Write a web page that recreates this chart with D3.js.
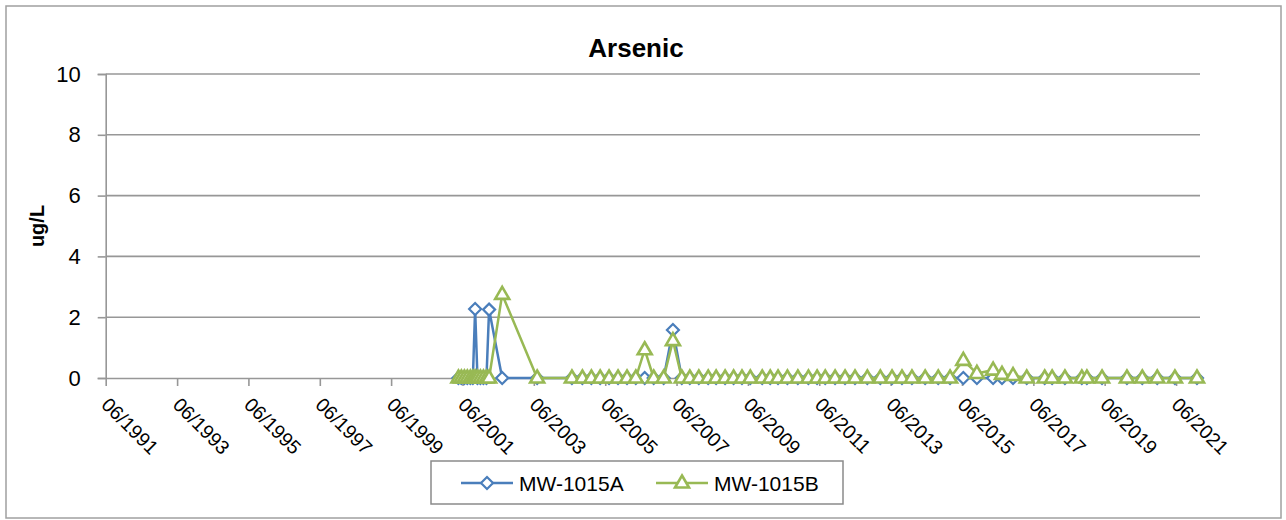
<!DOCTYPE html>
<html>
<head>
<meta charset="utf-8">
<script src="https://cdn.jsdelivr.net/npm/d3@7"></script>
<style>
  body { margin: 0; background: #fff; }
</style>
</head>
<body>
<div id="chart"></div>
<script>
// chart values
const chartTitle = 'Arsenic';
const yTitle = 'ug/L';
const seriesNames = ['MW-1015A', 'MW-1015B'];

const sampleDates = [
  '2001-04-20', '2001-05-20', '2001-06-20', '2001-07-20', '2001-08-20', '2001-09-15', '2001-10-08',
  '2001-11-01', '2001-12-01', '2002-01-01', '2002-02-01', '2002-02-28',
  '2002-07-12', '2003-07-05',
  '2004-06-25', '2004-10-10', '2005-01-10', '2005-04-10', '2005-07-10', '2005-10-10', '2006-01-10',
  '2006-04-10', '2006-07-10', '2006-10-10', '2007-01-20', '2007-04-25', '2007-07-25', '2007-10-15',
  '2008-01-15', '2008-04-20', '2008-07-10', '2008-10-10', '2009-01-05', '2009-04-01', '2009-06-25',
  '2009-10-25', '2010-01-15', '2010-04-05', '2010-07-10', '2010-10-25',
  '2011-02-10', '2011-05-10', '2011-08-01', '2011-11-10', '2012-02-20', '2012-06-01', '2012-10-05',
  '2013-02-15', '2013-06-15', '2013-09-25', '2014-01-05', '2014-05-20', '2014-10-01', '2015-01-30',
  '2015-06-15', '2015-11-01', '2016-04-15', '2016-07-15', '2016-11-05', '2017-03-25', '2017-09-25',
  '2017-12-10', '2018-04-20', '2018-10-10', '2018-12-01', '2019-05-05',
  '2020-01-15', '2020-06-20', '2020-11-20', '2021-05-20', '2022-01-01',
];

const arsenicA = [
  0, 0, 0, 0, 0, 0, 2.27, 0, 0, 0, 0, 2.25,
  0, 0,
  0, 0, 0, 0, 0, 0, 0, 0, 0, 0, 0, 1.58, 0, 0,
  0, 0, 0, 0, 0, 0, 0, 0, 0, 0, 0, 0,
  0, 0, 0, 0, 0, 0, 0, 0, 0, 0, 0, 0, 0, 0,
  0, 0, 0, 0, 0, 0, 0, 0, 0, 0, 0, 0,
  0, 0, 0, 0, 0,
];

const arsenicB = [
  0, 0, 0, 0, 0, 0, 0, 0, 0, 0, 0, 0,
  2.75, 0,
  0, 0, 0, 0, 0, 0, 0, 0, 0.93, 0, 0, 1.23, 0, 0,
  0, 0, 0, 0, 0, 0, 0, 0, 0, 0, 0, 0,
  0, 0, 0, 0, 0, 0, 0, 0, 0, 0, 0, 0, 0, 0,
  0.58, 0.15, 0.26, 0.12, 0.08, 0, 0, 0, 0, 0, 0, 0,
  0, 0, 0, 0, 0,
];

const yTicks = [0, 2, 4, 6, 8, 10];
const xTickLabels = [
  '06/1991', '06/1993', '06/1995', '06/1997', '06/1999', '06/2001', '06/2003', '06/2005',
  '06/2007', '06/2009', '06/2011', '06/2013', '06/2015', '06/2017', '06/2019', '06/2021',
];
const xEnd = '02/2022';

const size = { width: 1286, height: 520 };
const plot = { left: 105.7, right: 1200, top: 74, bottom: 378 };
const font = "'Liberation Sans', Arial, sans-serif";
const colors = ['#4a7ebb', '#98b954'];
const gridColor = '#979797';

const parseDay = d3.timeParse('%Y-%m-%d');
const parseMonth = d3.timeParse('%m/%Y');

const series = [arsenicA, arsenicB].map((vals, i) => ({
  name: seriesNames[i],
  color: colors[i],
  values: sampleDates.map((d, j) => ({ date: parseDay(d), value: vals[j] })),
}));

const svg = d3
  .select('#chart')
  .append('svg')
  .attr('width', size.width)
  .attr('height', size.height)
  .style('font-family', font);

// outer chart border
svg
  .append('rect')
  .attr('x', 6)
  .attr('y', 6)
  .attr('width', 1275)
  .attr('height', 512)
  .attr('fill', '#fff')
  .attr('stroke', '#a0a0a0')
  .attr('stroke-width', 1.5);

const x = d3
  .scaleTime()
  .domain([parseMonth(xTickLabels[0]), parseMonth(xEnd)])
  .range([plot.left, plot.right]);
const y = d3.scaleLinear().domain([0, 10]).range([plot.bottom, plot.top]);

// horizontal grid
svg
  .append('g')
  .selectAll('line')
  .data(yTicks.slice(1))
  .join('line')
  .attr('x1', plot.left)
  .attr('x2', plot.right)
  .attr('y1', (d) => y(d))
  .attr('y2', (d) => y(d))
  .attr('stroke', gridColor)
  .attr('stroke-width', 1.6);

// y axis
const yAxis = svg
  .append('g')
  .attr('transform', `translate(${plot.left},0)`)
  .call(d3.axisLeft(y).tickValues(yTicks).tickSize(8).tickPadding(17));
yAxis.select('.domain').attr('stroke', gridColor).attr('stroke-width', 1.6);
yAxis.selectAll('.tick line').attr('stroke', gridColor).attr('stroke-width', 1.6);
yAxis.selectAll('.tick text').attr('fill', '#000').style('font-size', '22px').style('font-family', font);

// x axis
const xAxis = svg
  .append('g')
  .attr('transform', `translate(0,${plot.bottom})`)
  .call(
    d3
      .axisBottom(x)
      .tickValues(xTickLabels.map(parseMonth))
      .tickSize(8)
      .tickSizeOuter(0)
      .tickFormat(d3.timeFormat('%m/%Y')),
  );
xAxis.select('.domain').attr('stroke', gridColor).attr('stroke-width', 1.6);
xAxis.selectAll('.tick line').attr('stroke', gridColor).attr('stroke-width', 1.6);
xAxis
  .selectAll('.tick text')
  .attr('fill', '#000')
  .style('font-size', '19.5px')
  .style('font-family', font)
  .attr('text-anchor', 'start')
  .attr('dominant-baseline', 'central')
  .attr('y', 0)
  .attr('dy', 0)
  .attr('transform', 'translate(-1,23) rotate(45)');

// title + axis title
svg
  .append('text')
  .attr('x', 636)
  .attr('y', 57)
  .attr('text-anchor', 'middle')
  .style('font-size', '26px')
  .style('font-weight', 'bold')
  .text(chartTitle);

svg
  .append('text')
  .attr('transform', 'translate(44,226) rotate(-90)')
  .attr('text-anchor', 'middle')
  .style('font-size', '20px')
  .style('font-weight', 'bold')
  .text(yTitle);

const markers = ['M0,-6L6,0L0,6L-6,0Z', 'M0,-7.5L7,4.5L-7,4.5Z'];
const markerStroke = [2.2, 2.6];

const line = d3
  .line()
  .x((d) => x(d.date))
  .y((d) => y(d.value));

series.forEach((s, i) => {
  const g = svg.append('g');
  g.append('path')
    .attr('d', line(s.values))
    .attr('fill', 'none')
    .attr('stroke', s.color)
    .attr('stroke-width', 2.5)
    .attr('stroke-linejoin', 'round');
  g.selectAll('path.mark')
    .data(s.values)
    .join('path')
    .attr('class', 'mark')
    .attr('d', markers[i])
    .attr('transform', (d) => `translate(${x(d.date)},${y(d.value)})`)
    .attr('fill', '#fff')
    .attr('stroke', s.color)
    .attr('stroke-width', markerStroke[i]);
});

// legend
const legend = svg.append('g');
legend
  .append('rect')
  .attr('x', 431)
  .attr('y', 461)
  .attr('width', 412)
  .attr('height', 43)
  .attr('fill', '#fff')
  .attr('stroke', '#8a8a8a')
  .attr('stroke-width', 1.5);

const legendX = [461, 656];
series.forEach((s, i) => {
  const lx = legendX[i];
  legend
    .append('line')
    .attr('x1', lx)
    .attr('x2', lx + 52)
    .attr('y1', 483)
    .attr('y2', 483)
    .attr('stroke', s.color)
    .attr('stroke-width', 2.5);
  legend
    .append('path')
    .attr('d', markers[i])
    .attr('transform', `translate(${lx + 26},483)`)
    .attr('fill', '#fff')
    .attr('stroke', s.color)
    .attr('stroke-width', markerStroke[i]);
  legend
    .append('text')
    .attr('x', lx + 58)
    .attr('y', 483)
    .attr('dominant-baseline', 'central')
    .style('font-size', '21px')
    .text(s.name);
});
</script>
</body>
</html>
